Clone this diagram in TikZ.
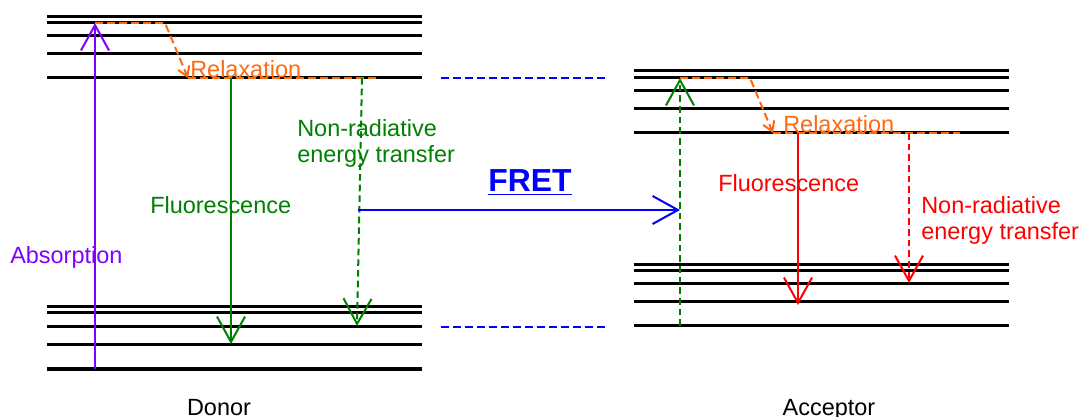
\documentclass[tikz,border=0pt]{standalone}
\usepackage{fontspec}
\setmainfont{Liberation Sans}
\usetikzlibrary{arrows.meta}
\definecolor{AbsViolet}{HTML}{8000FF}
\definecolor{RelaxOrange}{HTML}{FF6A10}
\definecolor{DonorGreen}{HTML}{008000}
\definecolor{FretBlue}{HTML}{0000FF}
\definecolor{AccRed}{HTML}{FF0000}

\begin{document}
\begin{tikzpicture}[
    x=0.75pt, y=-0.75pt,
    level/.style={line width=2.25pt, draw=black},
    bigtip/.style={-{Straight Barb[length=19pt, width=21pt]}},
    arrow/.style={line width=1.5pt, bigtip},
    dashline/.style={line width=1.5pt, dash pattern=on 5pt off 3pt},
    relax/.style={line width=1.5pt, draw=RelaxOrange, dash pattern=on 6pt off 3pt},
    label/.style={inner sep=0pt, font=\fontsize{17.6}{20}\selectfont}
]
    \useasboundingbox (0,0) rectangle (1083,417);

    % energy levels
    \foreach \y in {17,23,36,54,78,307,313,327,345,369}
        \draw[level] (47,\y) -- (422,\y);
    \foreach \y in {71,78,91,109,133,265,271,284,302,326}
        \draw[level] (634,\y) -- (1009,\y);

    % donor
    \coordinate (dGround) at (95,369);
    \coordinate (dTop) at (95,23);
    \coordinate (dKnee) at (165,23);
    \coordinate (dRelax) at (188,78);
    \coordinate (dRelaxEnd) at (377,78);
    \coordinate (dFluoTop) at (231,78);
    \coordinate (dFluoBot) at (231,344);
    \coordinate (dNonTop) at (362,78);
    \coordinate (dNonBot) at (357,326);

    % acceptor
    \coordinate (aGround) at (680,326);
    \coordinate (aTop) at (680,78);
    \coordinate (aKnee) at (750,78);
    \coordinate (aRelax) at (773,133);
    \coordinate (aRelaxEnd) at (960,133);
    \coordinate (aFluoTop) at (798,133);
    \coordinate (aFluoBot) at (798,305);
    \coordinate (aNonTop) at (909,133);
    \coordinate (aNonBot) at (909,283);

    % transfer
    \coordinate (fretStart) at (358,210);
    \coordinate (fretEnd) at (680,210);
    \coordinate (upLeft) at (441,78);
    \coordinate (upRight) at (608,78);
    \coordinate (lowLeft) at (441,327);
    \coordinate (lowRight) at (606,327);

    \draw[arrow, draw=AbsViolet] (dGround) -- (dTop);
    \draw[relax, -{Straight Barb[length=7pt, width=9pt]}] (dTop) -- (dKnee) -- (dRelax);
    \draw[relax] (dRelax) -- (dRelaxEnd);
    \draw[arrow, draw=DonorGreen] (dFluoTop) -- (dFluoBot);
    \draw[dashline, bigtip, draw=DonorGreen] (dNonTop) -- (dNonBot);

    \draw[dashline, bigtip, draw=DonorGreen] (aGround) -- (aTop);
    \draw[relax, -{Straight Barb[length=7pt, width=9pt]}] (aTop) -- (aKnee) -- (aRelax);
    \draw[relax] (aRelax) -- (aRelaxEnd);
    \draw[arrow, draw=AccRed] (aFluoTop) -- (aFluoBot);
    \draw[dashline, bigtip, draw=AccRed] (aNonTop) -- (aNonBot);

    \draw[arrow, draw=FretBlue] (fretStart) -- (fretEnd);
    \draw[line width=1.5pt, draw=FretBlue, dash pattern=on 6pt off 3pt] (upLeft) -- (upRight);
    \draw[line width=1.5pt, draw=FretBlue, dash pattern=on 6pt off 3pt] (lowLeft) -- (lowRight);

    % labels
    \node[label, anchor=base west, text=AbsViolet] (absorption) at (10,264) {Absorption};
    \node[label, anchor=base west, text=RelaxOrange] (dRelaxText) at (190,78) {Relaxation};
    \node[label, anchor=base west, text=DonorGreen] (dFluoText) at (150,214) {Fluorescence};
    \node[label, anchor=base west, align=left, text=DonorGreen] (dNonText) at (297,163) {Non-radiative\\energy transfer};
    \node[inner sep=0pt, anchor=base, text=FretBlue, font=\fontsize{23.9}{28}\selectfont\bfseries] (fret) at (530,192) {\underline{FRET}};
    \node[label, anchor=base west, text=RelaxOrange] (aRelaxText) at (783,133) {Relaxation};
    \node[label, anchor=base west, text=AccRed] (aFluoText) at (718,192) {Fluorescence};
    \node[label, anchor=base west, align=left, text=AccRed] (aNonText) at (921,240) {Non-radiative\\energy transfer};
    \node[label, anchor=base] (donor) at (219,416) {Donor};
    \node[label, anchor=base] (acceptor) at (829,416) {Acceptor};
\end{tikzpicture}
\end{document}
